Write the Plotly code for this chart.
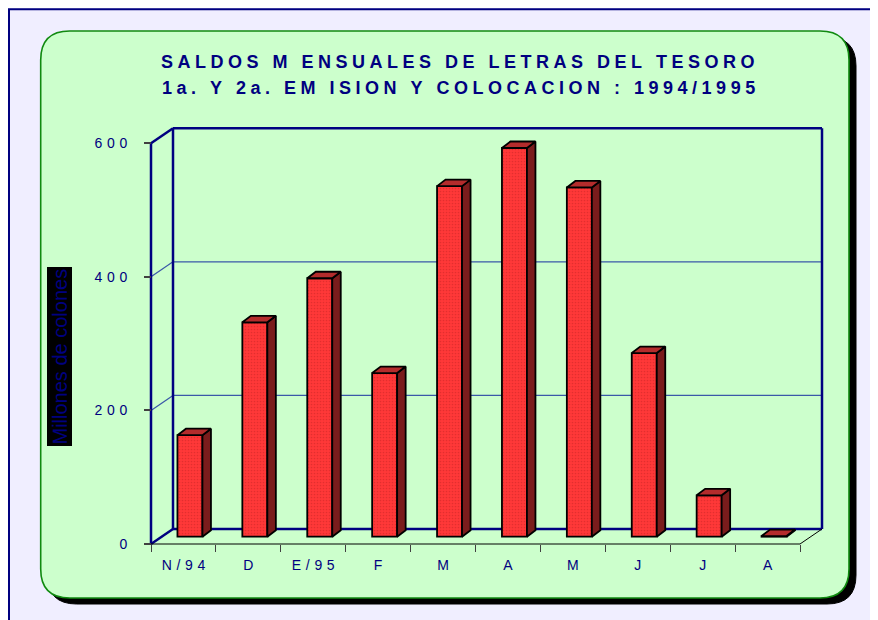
import plotly.graph_objects as go

# ---------------- data ----------------
months = ["N/94", "D", "E/95", "F", "M", "A", "M", "J", "J", "A"]
values = [152, 321, 387, 245, 525, 582, 523, 275, 62, 1]
y_ticks = [0, 200, 400, 600]
title_lines = ["SALDOS M ENSUALES DE LETRAS DEL TESORO",
               "1a. Y 2a. EM ISION Y COLOCACION : 1994/1995"]
y_title = "Millones de colones"

# ---------------- geometry (screen pixels; page body has an 8px margin) ----------------
OFF = 8
W, H = 878 - OFF, 620 - OFF
PL, PR, PT, PB = 148, 825, 124, 547          # plot area (screen px)
X0PX, PXX = 151, 64.9                        # front plane x origin, px per category
Y0PX, PXY = 544, (544 - 143.3) / 600          # front plane y origin, px per unit
WALL_DX, WALL_DY = 22, 15                     # depth of chart walls
BAR_SHIFT, BAR_W = 6.5, 25                    # bar front face
BAR_BASE = 7.3
BAR_DX, BAR_DY = 8.5, 6.5                     # bar depth

NAVY = "#000080"
FONT = "Liberation Sans, Arial, sans-serif"

def ux(px):
    return px / PXX

def uy(px):
    return px / PXY

def paper_x(px):
    return (px - PL) / (PR - PL)

def paper_y(py):
    return (PB - py) / (PB - PT)

def spaced(s, gap="\u2004", word="\u2004 \u2004"):
    return word.join(gap.join(list(w)) for w in s.split(" "))

n = len(months)
wdx, wdy = ux(WALL_DX), uy(WALL_DY)
ymax = y_ticks[-1]

shapes = []

def rrect(x0, y0, x1, y1, r):
    p = lambda x, y: f"{paper_x(x)},{paper_y(y)}"
    return (f"M {p(x0 + r, y0)} L {p(x1 - r, y0)} Q {p(x1, y0)} {p(x1, y0 + r)} "
            f"L {p(x1, y1 - r)} Q {p(x1, y1)} {p(x1 - r, y1)} L {p(x0 + r, y1)} "
            f"Q {p(x0, y1)} {p(x0, y1 - r)} L {p(x0, y0 + r)} Q {p(x0, y0)} {p(x0 + r, y0)} Z")

# outer border
shapes.append(dict(type="rect", xref="paper", yref="paper", layer="below",
                   x0=paper_x(9), x1=paper_x(920), y0=paper_y(9.3), y1=paper_y(700),
                   line=dict(color=NAVY, width=2), fillcolor="rgba(0,0,0,0)"))
# panel shadow + panel
shapes.append(dict(type="path", xref="paper", yref="paper", layer="below",
                   path=rrect(47.5, 37, 856, 604, 29), fillcolor="black",
                   line=dict(color="black", width=1)))
shapes.append(dict(type="path", xref="paper", yref="paper", layer="below",
                   path=rrect(40.7, 31, 849, 598, 29), fillcolor="#CCFFCC",
                   line=dict(color="#108A10", width=1.6)))

def seg(x0, y0, x1, y1, color, width):
    shapes.append(dict(type="line", xref="x", yref="y", layer="below",
                       x0=x0, y0=y0, x1=x1, y1=y1, line=dict(color=color, width=width)))

# gridlines on back wall + left wall
for v in y_ticks[1:-1]:
    seg(wdx, v + wdy, n + wdx, v + wdy, "#3A58A8", 1.2)
    seg(0, v, wdx, v + wdy, "#3A58A8", 1.2)
# wall frame
seg(wdx, wdy, n + wdx, wdy, NAVY, 2.5)
seg(wdx, ymax + wdy, n + wdx, ymax + wdy, NAVY, 2.5)
seg(wdx, wdy, wdx, ymax + wdy, NAVY, 2.5)
seg(n + wdx, wdy, n + wdx, ymax + wdy, NAVY, 2.5)
seg(0, 0, 0, ymax, NAVY, 2.5)
seg(0, 0, wdx, wdy, NAVY, 2.5)
seg(0, ymax, wdx, ymax + wdy, NAVY, 2.5)
# floor front edge
seg(0, 0, n, 0, "black", 1)
seg(n, 0, n + wdx, wdy, "black", 1)

# ---------------- bars ----------------
base = uy(BAR_BASE)
bw = ux(BAR_W)
bdx, bdy = ux(BAR_DX), uy(BAR_DY)
xc = [i + 0.5 + ux(BAR_SHIFT) for i in range(n)]

fig = go.Figure()
fig.add_trace(go.Bar(
    x=xc, y=values, base=base, width=bw,
    marker=dict(color="#FF3838", line=dict(color="black", width=1.8),
                pattern=dict(shape=".", fgcolor="#C82424", bgcolor="#FF3838",
                             size=3, solidity=0.25)),
    hoverinfo="skip", showlegend=False))

side_x, side_y, top_x, top_y = [], [], [], []
for x, v in zip(xc, values):
    xl, xr = x - bw / 2, x + bw / 2
    t = base + v
    side_x += [xr, xr, xr + bdx, xr + bdx, xr, None]
    side_y += [base, t, t + bdy, base + bdy, base, None]
    top_x += [xl, xr, xr + bdx, xl + bdx, xl, None]
    top_y += [t, t, t + bdy, t + bdy, t, None]

fig.add_trace(go.Scatter(x=side_x, y=side_y, mode="lines", fill="toself",
                         fillcolor="#7A1C1C", line=dict(color="black", width=1.8),
                         hoverinfo="skip", showlegend=False))
fig.add_trace(go.Scatter(x=top_x, y=top_y, mode="lines", fill="toself",
                         fillcolor="#B42C2C", line=dict(color="black", width=1.8),
                         hoverinfo="skip", showlegend=False))

# ---------------- annotations ----------------
tgap, tword = "\u2005", "\u2005 \u2005"
annotations = [
    dict(text=spaced(title_lines[0], tgap, tword), x=paper_x(458), y=paper_y(62),
         xref="paper", yref="paper", showarrow=False, xanchor="center", yanchor="middle",
         font=dict(family=FONT, size=18, color=NAVY, weight="bold")),
    dict(text=spaced(title_lines[1], tgap, tword), x=paper_x(458.5), y=paper_y(88),
         xref="paper", yref="paper", showarrow=False, xanchor="center", yanchor="middle",
         font=dict(family=FONT, size=18, color=NAVY, weight="bold")),
    dict(text=y_title, x=paper_x(59.5), y=paper_y(356), xref="paper", yref="paper",
         showarrow=False, textangle=-90, xanchor="center", yanchor="middle",
         bgcolor="black", borderpad=1,
         font=dict(family=FONT, size=20, color=NAVY)),
]

fig.update_layout(
    width=W, height=H,
    margin=dict(l=PL - OFF, r=W - (PR - OFF), t=PT - OFF, b=H - (PB - OFF), pad=0),
    paper_bgcolor="#F0EEFF", plot_bgcolor="rgba(0,0,0,0)",
    shapes=shapes, annotations=annotations, showlegend=False,
    xaxis=dict(range=[ux(PL - X0PX), ux(PR - X0PX)], anchor="free",
               position=(PB - Y0PX) / (PB - PT),
               tickvals=[i + 0.5 for i in range(n)],
               ticktext=[spaced(m) for m in months],
               ticks="outside", ticklen=0, tickcolor="rgba(0,0,0,0)",
               minor=dict(tickvals=list(range(n + 1)), ticks="outside", ticklen=7,
                          tickwidth=1.3, tickcolor="#404040"),
               showgrid=False, zeroline=False, showline=False,
               ticklabelstandoff=8,
               tickfont=dict(family=FONT, size=14, color=NAVY), fixedrange=True),
    yaxis=dict(range=[uy(Y0PX - PB), uy(Y0PX - PT)], anchor="free",
               position=(X0PX - PL) / (PR - PL),
               tickvals=y_ticks, ticktext=[spaced(str(v)) for v in y_ticks],
               ticks="outside", ticklen=7, tickwidth=1.5, tickcolor="#404040",
               showgrid=False, zeroline=False, showline=False,
               ticklabelstandoff=14,
               tickfont=dict(family=FONT, size=14, color=NAVY), fixedrange=True),
)

fig.write_html("out.html")
